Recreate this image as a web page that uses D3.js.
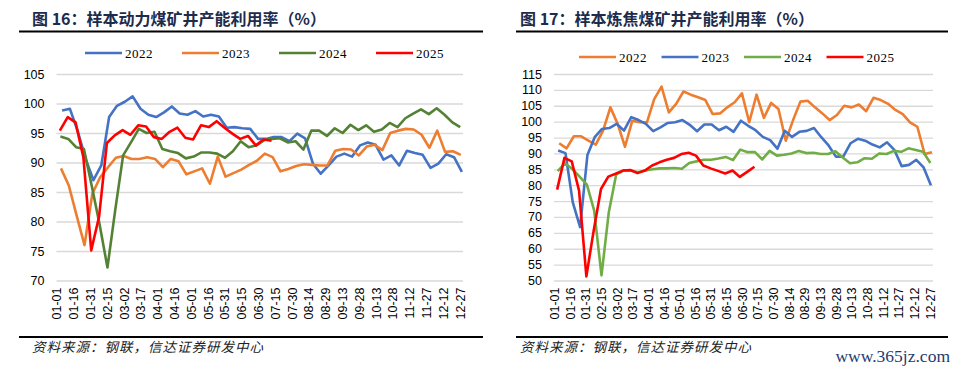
<!DOCTYPE html>
<html lang="zh">
<head>
<meta charset="utf-8">
<script src="https://cdn.jsdelivr.net/npm/d3@7"></script>
<style>
  body { margin: 0; background: #fff; }
  svg { display: block; }
</style>
</head>
<body>
<script>
// x axis labels, one every 15 days
var tickLabels = ["01-01", "01-16", "01-31", "02-15", "03-02", "03-17", "04-01", "04-16",
  "05-01", "05-16", "05-31", "06-15", "06-30", "07-15", "07-30", "08-14", "08-29",
  "09-13", "09-28", "10-13", "10-28", "11-12", "11-27", "12-12", "12-27"];
var tickStep = 15;

var years = ["2022", "2023", "2024", "2025"];
// day of year of the first weekly reading
var firstDay = [5, 4, 3.5, 3];

// 样本动力煤矿井产能利用率 (weekly)
var thermal2022 = [98.8, 99.1, 95.3, 90.6, 87.0, 89.5, 97.7, 99.6, 100.3, 101.2,
  99.1, 98.1, 97.7, 98.5, 99.5, 98.3, 98.1, 98.7, 97.8, 98.1,
  97.8, 95.9, 96.0, 95.8, 95.7, 94.0, 94.0, 94.3, 94.3, 93.6,
  94.9, 94.1, 89.8, 88.1, 89.5, 91.0, 91.5, 91.0, 92.9, 93.4,
  93.0, 90.5, 91.2, 89.5, 92.0, 91.6, 91.3, 89.1, 89.8, 91.4,
  90.9, 88.4];
var thermal2023 = [89.0, 86.1, 81.0, 76.0, 84.7, 87.5, 89.2, 90.8, 91.1, 90.6,
  90.6, 90.9, 90.6, 89.2, 90.6, 90.2, 88.0, 88.5, 89.0, 86.4,
  91.0, 87.6, 88.2, 88.8, 89.6, 90.3, 91.5, 90.9, 88.5, 88.9,
  89.4, 89.7, 89.6, 89.5, 89.5, 92.0, 92.3, 92.2, 91.2, 92.7,
  93.0, 92.1, 95.0, 95.4, 95.7, 95.6, 94.7, 92.5, 95.4, 91.8,
  91.9, 91.3];
var thermal2024 = [94.4, 94.0, 92.6, 92.3, 86.0, 79.5, 72.2, 82.0, 91.2, 93.4,
  95.7, 95.0, 95.2, 92.3, 91.9, 91.6, 90.7, 91.0, 91.7, 91.7,
  91.5, 90.8, 91.9, 93.6, 92.6, 92.9, 93.8, 94.0, 94.1, 93.4,
  93.6, 92.2, 95.4, 95.4, 94.5, 95.8, 95.0, 96.4, 95.5, 96.3,
  95.2, 95.6, 96.7, 96.0, 97.5, 98.3, 99.0, 98.2, 99.2, 98.1,
  96.8, 96.0];
var thermal2025 = [95.4, 97.7, 96.8, 90.9, 75.1, 80.8, 93.3, 94.6, 95.5, 94.7,
  96.3, 96.1, 94.3, 94.0, 95.2, 95.9, 94.2, 93.9, 96.3, 96.0,
  97.0, 95.9, 94.9, 94.0, 94.5, 92.9, 93.9, 93.7];

// 样本炼焦煤矿井产能利用率 (weekly)
var coking2022 = [93.2, 91.6, 95.4, 95.4, 94.0, 92.8, 97.2, 104.5, 99.3, 92.1,
  100.3, 99.8, 99.8, 107.1, 111.0, 102.9, 105.6, 109.5, 108.5, 107.7,
  106.8, 102.4, 102.6, 104.5, 106.1, 108.9, 99.8, 108.5, 101.2, 105.9,
  104.0, 94.0, 100.5, 106.3, 106.6, 104.5, 102.6, 100.5, 102.1, 105.0,
  104.5, 105.4, 103.3, 107.5, 106.8, 105.6, 103.7, 102.4, 99.8, 98.4,
  89.8, 90.4];
var coking2023 = [90.9, 90.1, 74.6, 66.8, 89.5, 95.1, 97.7, 98.0, 99.3, 97.2,
  101.4, 100.5, 99.3, 97.0, 98.2, 99.6, 99.8, 100.5, 99.0, 97.0,
  99.1, 99.1, 97.3, 98.4, 96.8, 100.3, 98.7, 97.3, 95.2, 94.2,
  91.5, 97.1, 95.2, 96.8, 97.1, 98.0, 95.1, 92.5, 89.0, 89.0,
  93.2, 94.6, 94.0, 92.8, 91.9, 93.5, 91.1, 86.0, 86.4, 88.0,
  85.6, 80.0];
var coking2024 = [84.4, 86.9, 85.1, 82.7, 80.2, 72.0, 51.6, 71.5, 83.3, 84.6,
  84.6, 84.1, 84.6, 85.0, 85.3, 85.3, 85.4, 85.2, 87.0, 87.5,
  88.0, 88.0, 88.4, 88.9, 87.9, 91.2, 90.4, 90.4, 88.1, 90.8,
  89.3, 89.6, 90.0, 90.8, 90.1, 90.2, 89.8, 89.8, 90.7, 88.7,
  86.9, 87.2, 88.5, 88.3, 90.0, 89.8, 90.8, 90.5, 91.6, 91.1,
  90.5, 87.0];
var coking2025 = [78.6, 88.6, 87.5, 78.3, 51.3, 65.7, 78.8, 82.7, 83.6, 84.6,
  84.8, 83.8, 84.6, 86.2, 87.2, 88.0, 88.6, 89.8, 90.2, 89.3,
  86.2, 85.3, 84.5, 83.7, 84.6, 82.6, 84.2, 85.8];

var thermalTicks = [70, 75, 80, 85, 90, 95, 100, 105];
var cokingTicks = [50, 55, 60, 65, 70, 75, 80, 85, 90, 95, 100, 105, 110, 115];

var w = 958;
var h = 369;
var titleColor = "#1d2b4c";

var svg = d3.select("body").append("svg")
  .attr("width", w)
  .attr("height", h);

// one chart panel
function drawChart(c) {
  var x = d3.scaleLinear().domain([0, 363]).range([c.left, c.right]);
  var y = d3.scaleLinear().domain([c.ticks[0], c.ticks[c.ticks.length - 1]])
    .range([c.bottom, c.top]);

  // title and rules
  svg.append("text")
    .attr("x", c.titleX).attr("y", 25)
    .attr("fill", titleColor)
    .style("font-family", "'Noto Sans CJK SC', sans-serif")
    .style("font-weight", "bold")
    .style("font-size", "16px")
    .text(c.title);
  svg.append("rect")
    .attr("x", c.ruleX0).attr("y", 30.5)
    .attr("width", c.ruleX1 - c.ruleX0).attr("height", 2)
    .attr("fill", "#000");
  svg.append("rect")
    .attr("x", c.ruleX0).attr("y", 336)
    .attr("width", c.ruleX1 - c.ruleX0).attr("height", 2)
    .attr("fill", "#000");
  svg.append("text")
    .attr("x", c.titleX).attr("y", 352)
    .attr("fill", "#222")
    .style("font-family", "'Noto Sans CJK SC', sans-serif")
    .style("font-style", "italic")
    .style("font-size", "13.5px")
    .style("letter-spacing", "1px")
    .text("资料来源：钢联，信达证券研发中心");

  // grid lines + y labels
  var yaxis = d3.axisLeft(y).tickValues(c.ticks)
    .tickSize(-(c.right - c.left)).tickPadding(12).tickFormat(d3.format("d"));
  var gy = svg.append("g")
    .attr("transform", "translate(" + [c.left, 0] + ")")
    .call(yaxis);
  gy.select(".domain").remove();
  gy.selectAll(".tick line").attr("stroke", "#d9d9d9").attr("stroke-width", 1.3);
  gy.selectAll(".tick text")
    .attr("fill", "#000")
    .style("font-family", "'Liberation Sans', Arial, sans-serif")
    .style("font-size", "12.5px");

  // x labels, rotated
  var xaxis = d3.axisBottom(x)
    .tickValues(tickLabels.map(function(d, i) { return i * tickStep; }))
    .tickSize(0)
    .tickFormat(function(d, i) { return tickLabels[i]; });
  var gx = svg.append("g")
    .attr("transform", "translate(" + [0, c.bottom] + ")")
    .call(xaxis);
  gx.select(".domain").remove();
  gx.selectAll(".tick text")
    .attr("fill", "#000")
    .attr("transform", "rotate(-90)")
    .attr("x", -7).attr("y", 0).attr("dy", "0.35em")
    .style("text-anchor", "end")
    .style("font-family", "'Liberation Sans', Arial, sans-serif")
    .style("font-size", "12.5px");

  // series
  c.series.forEach(function(vals, k) {
    var line = d3.line()
      .x(function(d, i) { return x(firstDay[k] + 7 * i); })
      .y(function(d) { return y(d); })
      .curve(d3.curveLinear);
    svg.append("path")
      .datum(vals)
      .attr("fill", "none")
      .attr("stroke", c.colors[k])
      .attr("stroke-width", 2.6)
      .attr("stroke-linejoin", "round")
      .attr("d", line);
  });

  // legend
  years.forEach(function(yr, k) {
    var lx = c.legendX + k * c.legendStep;
    svg.append("line")
      .attr("x1", lx).attr("x2", lx + 37)
      .attr("y1", c.legendY).attr("y2", c.legendY)
      .attr("stroke", c.colors[k]).attr("stroke-width", 2.6);
    svg.append("text")
      .attr("x", lx + 40).attr("y", c.legendY).attr("dy", "0.35em")
      .attr("fill", "#000")
      .style("font-family", "'Liberation Serif', 'Times New Roman', serif")
      .style("font-size", "13px")
      .style("letter-spacing", "0.5px")
      .text(yr);
  });
}

drawChart({
  title: "图 16：样本动力煤矿井产能利用率（%）",
  titleX: 32, ruleX0: 19, ruleX1: 483,
  left: 56.5, right: 463, top: 74, bottom: 280.5,
  ticks: thermalTicks,
  series: [thermal2022, thermal2023, thermal2024, thermal2025],
  colors: ["#4472c4", "#ed7d31", "#548235", "#ff0000"],
  legendX: 85, legendStep: 97, legendY: 53
});

drawChart({
  title: "图 17：样本炼焦煤矿井产能利用率（%）",
  titleX: 520, ruleX0: 516, ruleX1: 948,
  left: 554, right: 933, top: 74, bottom: 280.5,
  ticks: cokingTicks,
  series: [coking2022, coking2023, coking2024, coking2025],
  colors: ["#ed7d31", "#4472c4", "#70ad47", "#ff0000"],
  legendX: 579, legendStep: 82.5, legendY: 57
});

// watermark
svg.append("text")
  .attr("x", 950).attr("y", 362)
  .attr("text-anchor", "end")
  .attr("fill", "#1f3c70")
  .style("font-family", "'Liberation Serif', serif")
  .style("font-size", "17.5px")
  .text("www.365jz.com");
</script>
</body>
</html>
